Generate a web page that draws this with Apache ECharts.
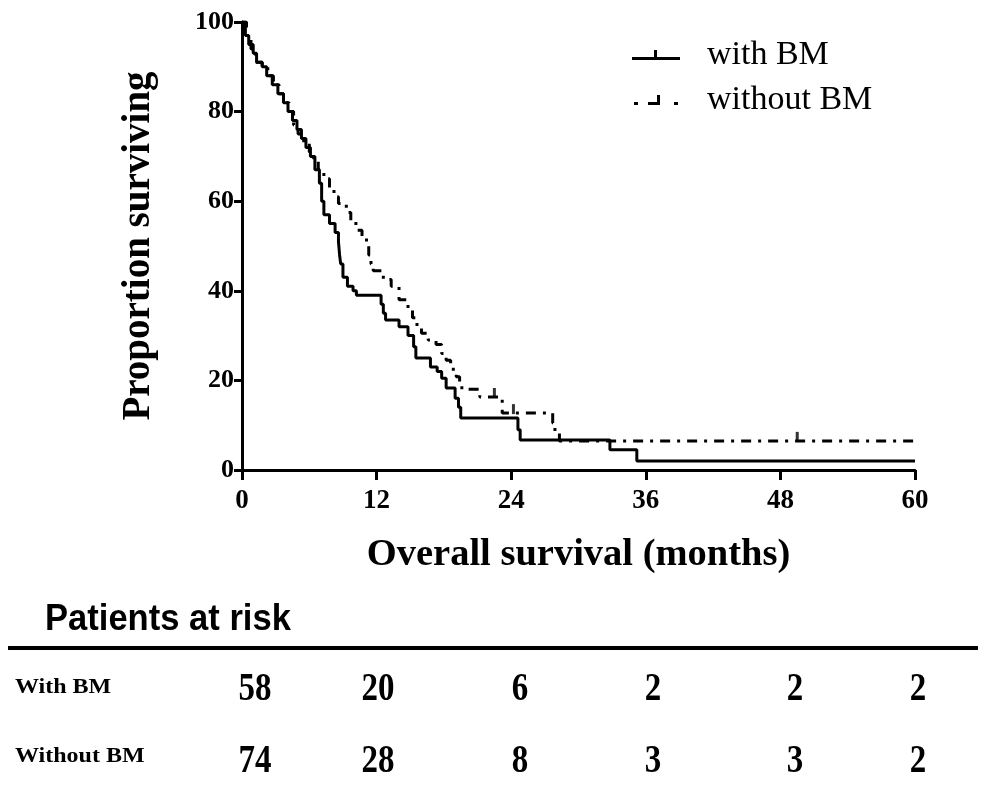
<!DOCTYPE html>
<html>
<head>
<meta charset="utf-8">
<script src="https://cdn.jsdelivr.net/npm/echarts@6/dist/echarts.min.js"></script>
<style>html,body{margin:0;padding:0;background:#fff;}#c{width:991px;height:790px;}</style>
</head>
<body>
<div id="c"></div>
<script>
// ---- Data ----
var xTicks = [0, 12, 24, 36, 48, 60];
var yTicks = [0, 20, 40, 60, 80, 100];
var withTimes = [0,0.3,0.6,1.0,1.3,1.8,2.2,2.7,3.2,3.7,4.1,4.5,4.9,5.3,5.7,6.1,6.5,6.9,7.1,7.3,7.8,8.3,8.6,8.7,8.8,9.0,9.4,9.9,10.2,12.4,12.6,12.8,14.0,14.8,15.3,15.5,16.8,17.4,17.8,18.2,19.0,19.3,19.5,24.6,24.8,32.8,35.2,60];
var withSurv  = [100,97,95,93,91,90,88,86,84,82,80,78,76,74,72,70,67,64,60,57,55,53,51,48,46,43,41,40,39,37,35,33.5,32,30,27.5,25,23,22,20.5,18.3,16,14,11.6,9,6.7,4.5,2,2];
var woTimes = [0,0.4,0.8,1.2,1.8,2.3,2.8,3.3,3.7,4.2,4.6,5.0,5.5,6.0,6.4,6.8,7.3,7.8,8.2,8.6,9.3,9.7,10.3,10.7,11.1,11.3,11.5,11.7,12.6,13.3,14.0,14.8,15.2,15.6,16.0,16.6,17.3,17.8,18.2,18.6,19.1,19.4,19.6,21.2,23.2,27.7,27.9,28.3,60];
var woSurv  = [100,97,94,91,90,88,86,84,82,80,77,75,73,71,69,67,65,63,61,59.5,57.5,55,53.5,52,50,48,46,44.5,42.5,41,38,36,34,32,30.5,29,28,26,24.5,22.5,20.8,19.5,18,16.3,12.7,10.5,8.3,6.5,6.5];
var woCensorT = [22.5, 24.2, 49.5];
var woCensorS = [16.3, 12.7, 6.5];
var groups = ['with BM', 'without BM'];
var riskLabels = ['With BM', 'Without BM'];
var riskWith = [58, 20, 6, 2, 2, 2];
var riskWithout = [74, 28, 8, 3, 3, 2];

function pairs(t, s) { return t.map(function (v, i) { return [v, s[i]]; }); }

var serif = '"Liberation Serif", "Times New Roman", serif';
var chart = echarts.init(document.getElementById('c'));

// risk table layout
var colX = [255, 378, 520, 653, 795, 918];
var rowY = [690, 762];
var labelY = [688, 757];
var graphics = [
  { type: 'text', x: 45, y: 620, scaleX: 0.96, scaleY: 1,
    style: { text: 'Patients at risk', font: 'bold 36px "Liberation Sans", Arial, sans-serif', fill: '#000', verticalAlign: 'middle', textVerticalAlign: 'middle' } },
  { type: 'rect', shape: { x: 8, y: 646, width: 970, height: 4 }, style: { fill: '#000' } }
];
[riskWith, riskWithout].forEach(function (row, r) {
  graphics.push({ type: 'text', x: 15, y: labelY[r], scaleX: 1.2, scaleY: 1,
    style: { text: riskLabels[r], font: 'bold 20px ' + serif, fill: '#000', textVerticalAlign: 'middle', verticalAlign: 'middle' } });
  row.forEach(function (v, i) {
    graphics.push({ type: 'text', x: colX[i], y: rowY[r], scaleX: 1, scaleY: 1.2,
      style: { text: String(v), font: 'bold 33px ' + serif, fill: '#000', align: 'center', textAlign: 'center', verticalAlign: 'middle', textVerticalAlign: 'middle' } });
  });
});

chart.setOption({
  animation: false,
  backgroundColor: '#fff',
  grid: { left: 242, right: 76, top: 22, bottom: 320, containLabel: false },
  legend: {
    orient: 'vertical', left: 627, top: 33, itemGap: 11, itemWidth: 48, itemHeight: 10,
    data: [
      { name: groups[0], icon: 'path://M0,7h48v3h-48z M22,0h3v8h-3z' },
      { name: groups[1], icon: 'path://M0,7h4v3h-4z M14,7h12v3h-12z M23,0h3v8h-3z M40,7h4v3h-4z' }
    ],
    textStyle: { fontFamily: serif, fontSize: 34, lineHeight: 34, color: '#000', padding: [0, 0, 0, 22] },
    itemStyle: { color: '#000' }
  },
  xAxis: {
    type: 'value', min: 0, max: 60, interval: 12,
    name: 'Overall survival (months)', nameLocation: 'middle', nameGap: 66,
    nameTextStyle: { fontFamily: serif, fontWeight: 'bold', fontSize: 38.5, color: '#000' },
    axisLine: { show: true, onZero: false, lineStyle: { color: '#000', width: 3 } },
    axisTick: { show: true, length: 10, lineStyle: { color: '#000', width: 3 } },
    axisLabel: { fontFamily: serif, fontWeight: 'bold', fontSize: 27, color: '#000', margin: 18 },
    splitLine: { show: false }
  },
  yAxis: {
    type: 'value', min: 0, max: 100, interval: 20,
    name: 'Proportion surviving', nameLocation: 'middle', nameGap: 84,
    nameTextStyle: { fontFamily: serif, fontWeight: 'bold', fontSize: 39, color: '#000' },
    axisLine: { show: true, lineStyle: { color: '#000', width: 3 } },
    axisTick: { show: true, length: 8, lineStyle: { color: '#000', width: 3 } },
    axisLabel: { fontFamily: serif, fontWeight: 'bold', fontSize: 26, color: '#000', margin: 8 },
    splitLine: { show: false }
  },
  series: [
    { name: groups[0], type: 'line', step: 'end', showSymbol: false, symbol: 'none',
      data: pairs(withTimes, withSurv), lineStyle: { color: '#000', width: 3 }, itemStyle: { color: '#000' }, z: 3 },
    { name: groups[1], type: 'line', step: 'end', showSymbol: false, symbol: 'none',
      data: pairs(woTimes, woSurv), lineStyle: { color: '#000', width: 3, type: [10, 7, 3, 7] }, itemStyle: { color: '#000' }, z: 2 },
    { name: 'censor', type: 'scatter', data: pairs(woCensorT, woCensorS), symbol: 'rect', symbolSize: [3, 10], symbolOffset: [0, -4],
      itemStyle: { color: '#000' }, silent: true, z: 4 }
  ],
  graphic: graphics
});
</script>
</body>
</html>
